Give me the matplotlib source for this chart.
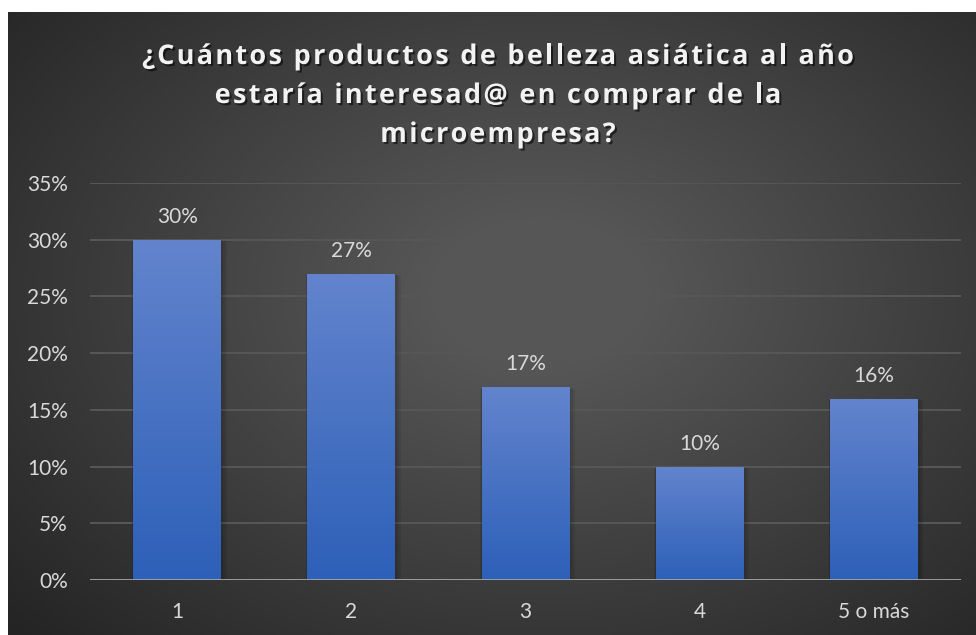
import numpy as np
import matplotlib
matplotlib.use("Agg")
import matplotlib.pyplot as plt
import matplotlib.patheffects as pe
from matplotlib.colors import LinearSegmentedColormap
from matplotlib.font_manager import FontProperties
from matplotlib.patches import Rectangle

categories = ["1", "2", "3", "4", "5 o más"]
values = [30, 27, 17, 10, 16]
yticks = [0, 5, 10, 15, 20, 25, 30, 35]
title_lines = ["¿Cuántos productos de belleza asiática al año",
               "estaría interesad@ en comprar de la",
               "microempresa?"]

W, H = 976, 635
fig = plt.figure(figsize=(W / 100, H / 100), dpi=100, facecolor="white")

# dark panel with a soft radial glow
bg = fig.add_axes([8 / W, 0, (W - 8) / W, (H - 12) / H])
bg.set_axis_off()
yy, xx = np.mgrid[0:1:300j, 0:1:460j]
r = np.sqrt(((xx - 0.55) / 0.75) ** 2 + ((yy - 0.45) / 0.8) ** 2)
glow = np.clip(1 - r, 0, 1)
bg_cmap = LinearSegmentedColormap.from_list("bg", ["#242424", "#565656"])
bg.imshow(glow, cmap=bg_cmap, aspect="auto", extent=[0, 1, 0, 1], vmin=0, vmax=0.85)
bg.set_xlim(0, 1)
bg.set_ylim(0, 1)

ax = fig.add_axes([90 / W, (H - 580) / H, (961 - 90) / W, (580 - 183) / H])
ax.patch.set_alpha(0)
x = np.arange(len(categories))
ax.set_xlim(-0.5, len(categories) - 0.5)
ax.set_ylim(0, 35)

for t in yticks[1:]:
    ax.axhline(t, color="#575757", lw=1.4, zorder=1)

bar_cmap = LinearSegmentedColormap.from_list("bar", ["#2d60b8", "#6384cd"])
grad = np.linspace(0, 1, 256).reshape(-1, 1)
bars = ax.bar(x, values, width=0.505, color="none", zorder=3)
for b, v in zip(bars, values):
    x0, w = b.get_x(), b.get_width()
    # soft shadow: a few stacked translucent rectangles
    for k in range(1, 4):
        dx, dy = 0.008 * k, 0.12 * k
        ax.add_patch(Rectangle((x0 - dx * 0.3, -dy), w + dx * 1.6, v + dy * 0.6,
                               color="black", alpha=0.07, lw=0, zorder=2))
    im = ax.imshow(grad, cmap=bar_cmap, aspect="auto", origin="lower",
                   extent=[x0, x0 + w, 0, v], zorder=3)
    im.set_clip_path(b)
    ax.text(x0 + w / 2, v + 2.0, f"{v}%", ha="center", va="center",
            color="#d9d9d9", fontsize=15, family="Lato", zorder=4)

ax.axhline(0, color="#a6a6a6", lw=2, zorder=5)
ax.set_xlim(-0.5, len(categories) - 0.5)
ax.set_ylim(0, 35)

ax.set_yticks(yticks)
ax.set_yticklabels([f"{t}%" for t in yticks])
ax.set_xticks(x)
ax.set_xticklabels(categories)
ax.tick_params(length=0, colors="#d9d9d9", labelsize=15)
ax.tick_params(axis="x", pad=16)
ax.tick_params(axis="y", pad=16)
for lab in ax.get_xticklabels() + ax.get_yticklabels():
    lab.set_family("Lato")
for s in ax.spines.values():
    s.set_visible(False)

# title with wide letter spacing, placed one character at a time
renderer = fig.canvas.get_renderer()
tprop = FontProperties(family="Open Sans", weight="bold", size=19.5)


def text_w(s):
    # measure with a sentinel so trailing spaces count
    w1 = renderer.get_text_width_height_descent(s + "|", tprop, ismath=False)[0]
    w0 = renderer.get_text_width_height_descent("|", tprop, ismath=False)[0]
    return w1 - w0


first = title_lines[0]
spacing = (712 - text_w(first)) / (len(first) - 1)
shadow = [pe.withSimplePatchShadow(offset=(1.5, -1.5), shadow_rgbFace="black", alpha=0.55)]
baselines = [64, 103, 142]
for line, base in zip(title_lines, baselines):
    total = text_w(line) + spacing * (len(line) - 1)
    start = 498 - total / 2
    for i, ch in enumerate(line):
        if ch == " ":
            continue
        px = start + text_w(line[:i]) + spacing * i
        fig.text(px / W, 1 - base / H, ch, ha="left", va="baseline", color="#f2f2f2",
                 fontproperties=tprop, path_effects=shadow)

fig.savefig("out.png", dpi=100, facecolor="white")
